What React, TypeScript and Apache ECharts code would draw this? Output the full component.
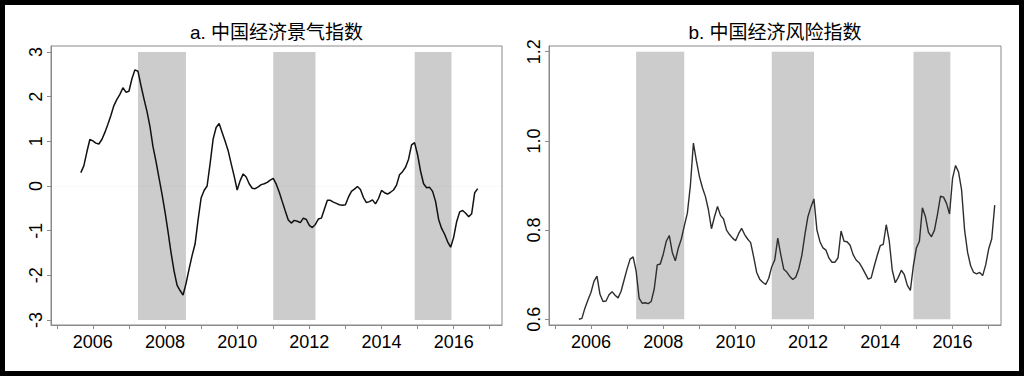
import React, { useEffect, useRef } from "react";
import * as echarts from "echarts";

// Monthly series, first observation September 2005
const startYear = 2005;
const startMonth = 9;

const titleA = "a. 中国经济景气指数";
const titleB = "b. 中国经济风险指数";

const prosperityIndex = [
  0.30, 0.45, 0.76, 1.04, 1.01, 0.96, 0.94, 1.04, 1.20, 1.38,
  1.58, 1.80, 1.94, 2.05, 2.20, 2.10, 2.12, 2.40, 2.60, 2.57,
  2.25, 1.95, 1.67, 1.33, 0.88, 0.55, 0.18, -0.18, -0.58, -1.02,
  -1.49, -1.90, -2.22, -2.34, -2.44, -2.18, -1.86, -1.56, -1.30, -0.76,
  -0.27, -0.10, 0.00, 0.50, 1.05, 1.31, 1.40, 1.20, 1.00, 0.79,
  0.50, 0.22, -0.09, 0.12, 0.27, 0.20, 0.05, -0.05, -0.06, -0.02,
  0.03, 0.05, 0.08, 0.13, 0.17, 0.04, -0.14, -0.35, -0.56, -0.76,
  -0.83, -0.77, -0.79, -0.82, -0.72, -0.75, -0.88, -0.93, -0.86, -0.74,
  -0.72, -0.52, -0.32, -0.32, -0.36, -0.39, -0.42, -0.43, -0.42, -0.25,
  -0.12, -0.07, -0.01, -0.08, -0.26, -0.37, -0.35, -0.31, -0.40, -0.28,
  -0.10, -0.15, -0.18, -0.14, -0.09, 0.02, 0.25, 0.32, 0.42, 0.60,
  0.92, 0.97, 0.70, 0.33, 0.05, -0.04, -0.03, -0.12, -0.35, -0.75,
  -0.95, -1.08, -1.25, -1.37, -1.15, -0.80, -0.58, -0.55, -0.61, -0.69,
  -0.62, -0.15, -0.06,
];

const riskIndex = [
  0.600, 0.602, 0.625, 0.643, 0.660, 0.685, 0.697, 0.656, 0.640, 0.641,
  0.655, 0.662, 0.654, 0.648, 0.663, 0.688, 0.713, 0.735, 0.740, 0.708,
  0.647, 0.636, 0.637, 0.635, 0.640, 0.668, 0.722, 0.724, 0.746, 0.775,
  0.788, 0.750, 0.731, 0.760, 0.780, 0.810, 0.838, 0.900, 0.995, 0.955,
  0.920, 0.895, 0.875, 0.845, 0.803, 0.830, 0.853, 0.833, 0.825, 0.800,
  0.790, 0.782, 0.776, 0.792, 0.804, 0.790, 0.780, 0.772, 0.740, 0.705,
  0.690, 0.683, 0.678, 0.692, 0.718, 0.733, 0.782, 0.745, 0.712, 0.706,
  0.696, 0.689, 0.695, 0.714, 0.744, 0.790, 0.830, 0.852, 0.870, 0.800,
  0.774, 0.760, 0.755, 0.737, 0.728, 0.728, 0.738, 0.798, 0.775, 0.774,
  0.766, 0.745, 0.733, 0.727, 0.716, 0.703, 0.690, 0.693, 0.719, 0.743,
  0.765, 0.768, 0.812, 0.775, 0.710, 0.682, 0.694, 0.710, 0.700, 0.676,
  0.665, 0.720, 0.760, 0.775, 0.850, 0.830, 0.795, 0.785, 0.800, 0.835,
  0.876, 0.874, 0.860, 0.836, 0.916, 0.945, 0.930, 0.890, 0.800, 0.750,
  0.720, 0.705, 0.702, 0.705, 0.698, 0.722, 0.758, 0.780, 0.856,
];

// Shaded periods (decimal years)
const shadedPeriods = [
  [2007.25, 2008.58],
  [2011.0, 2012.17],
  [2014.92, 2015.94],
];

const xTickYears = [2005, 2006, 2007, 2008, 2009, 2010, 2011, 2012, 2013, 2014, 2015, 2016, 2017];
const xLabelYears = [2006, 2008, 2010, 2012, 2014, 2016];
const yTicksA = [-3, -2, -1, 0, 1, 2, 3];
const yTicksB = [0.6, 0.8, 1.0, 1.2];

const FONT = "'Liberation Sans', 'Noto Sans CJK SC', sans-serif";
const AXIS_GRAY = "#8a8a8a";

function toSeries(values: number[]) {
  return values.map((v, i) => [startYear + (startMonth - 1) / 12 + i / 12, v]);
}

function xAxisFor(gridIndex: number) {
  return {
    type: "value",
    gridIndex,
    min: 2004.84,
    max: 2017.34,
    axisLine: { show: true, onZero: false, lineStyle: { color: AXIS_GRAY, width: 1 } },
    axisTick: {
      show: true,
      length: 4,
      inside: false,
      customValues: xTickYears,
      lineStyle: { color: AXIS_GRAY, width: 1 },
    },
    axisLabel: {
      show: true,
      customValues: xLabelYears,
      margin: 8,
      color: "#000",
      fontSize: 18,
      fontFamily: FONT,
      formatter: (v: number) => String(Math.round(v)),
    },
    splitLine: { show: false },
  };
}

function yAxisFor(gridIndex: number, min: number, max: number, ticks: number[], digits: number) {
  return {
    type: "value",
    gridIndex,
    min,
    max,
    axisLine: { show: true, onZero: false, lineStyle: { color: AXIS_GRAY, width: 1 } },
    axisTick: {
      show: true,
      length: 4,
      customValues: ticks,
      lineStyle: { color: AXIS_GRAY, width: 1 },
    },
    axisLabel: {
      show: true,
      customValues: ticks,
      rotate: 90,
      margin: 6,
      color: "#000",
      fontSize: 18,
      fontFamily: FONT,
      formatter: (v: number) => v.toFixed(digits),
    },
    splitLine: { show: false },
  };
}

function bands(lo: number, hi: number) {
  return shadedPeriods.map(([a, b]) => [
    { xAxis: a, yAxis: lo },
    { xAxis: b, yAxis: hi },
  ]);
}

export default function App() {
  const ref = useRef<HTMLDivElement>(null);

  useEffect(() => {
    if (!ref.current) return;
    const chart = echarts.init(ref.current, null, { renderer: "svg" });
    chart.setOption({
      animation: false,
      backgroundColor: "#ffffff",
      title: [
        {
          text: titleA,
          left: 276.5,
          top: 23,
          textAlign: "center",
          padding: 0,
          textStyle: { fontSize: 19, fontWeight: "normal", color: "#000", fontFamily: FONT },
        },
        {
          text: titleB,
          left: 775,
          top: 23,
          textAlign: "center",
          padding: 0,
          textStyle: { fontSize: 19, fontWeight: "normal", color: "#000", fontFamily: FONT },
        },
      ],
      grid: [
        { left: 51, top: 46, width: 451, height: 279, show: true, borderColor: AXIS_GRAY, borderWidth: 1, backgroundColor: "transparent" },
        { left: 549, top: 46, width: 452, height: 279, show: true, borderColor: AXIS_GRAY, borderWidth: 1, backgroundColor: "transparent" },
      ],
      xAxis: [xAxisFor(0), xAxisFor(1)],
      yAxis: [
        yAxisFor(0, -3.112, 3.134, yTicksA, 0),
        yAxisFor(1, 0.5872, 1.2128, yTicksB, 1),
      ],
      graphic: [
        {
          type: "rect",
          shape: { x: 0, y: 0, width: 1024, height: 376 },
          style: { fill: "none", stroke: "#000", lineWidth: 10 },
          silent: true,
          z: 100,
        },
      ],
      series: [
        {
          type: "line",
          xAxisIndex: 0,
          yAxisIndex: 0,
          data: toSeries(prosperityIndex),
          showSymbol: false,
          symbol: "none",
          lineStyle: { color: "#111", width: 1.5 },
          markArea: {
            silent: true,
            itemStyle: { color: "#cccccc" },
            data: bands(-3, 3),
          },
          markLine: {
            silent: true,
            symbol: "none",
            label: { show: false },
            lineStyle: { color: "rgba(0,0,0,0.025)", width: 1, type: "solid" },
            data: [{ yAxis: 0 }],
          },
        },
        {
          type: "line",
          xAxisIndex: 1,
          yAxisIndex: 1,
          data: toSeries(riskIndex),
          showSymbol: false,
          symbol: "none",
          lineStyle: { color: "#2e2e2e", width: 1.4 },
          markArea: {
            silent: true,
            itemStyle: { color: "#cccccc" },
            data: bands(0.6, 1.2),
          },
        },
      ],
    });
    return () => chart.dispose();
  }, []);

  return (
    <div
      ref={ref}
      style={{ position: "absolute", left: 0, top: 0, width: 1024, height: 376 }}
    />
  );
}
